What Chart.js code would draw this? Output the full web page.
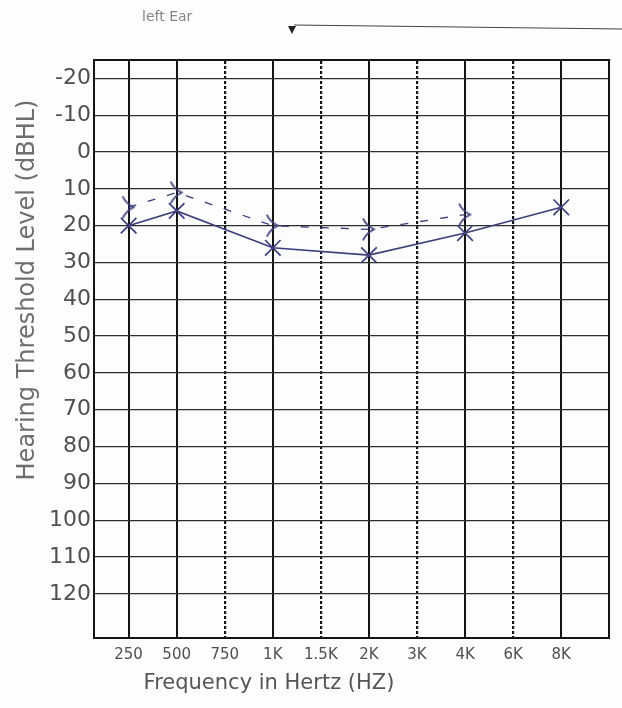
<!DOCTYPE html>
<html>
<head>
<meta charset="utf-8">
<title>Audiogram - left Ear</title>
<script src="https://cdn.jsdelivr.net/npm/chart.js@4"></script>
<style>
    html, body { margin: 0; padding: 0; background: #fdfdfd; }
    #wrap { width: 622px; height: 708px; position: relative; }
</style>
</head>
<body>
<div id="wrap"><canvas id="audiogram"></canvas></div>
<script>
// Frequencies along the bottom (index = position on the x scale)
const freqLabels = ['250', '500', '750', '1K', '1.5K', '2K', '3K', '4K', '6K', '8K'];
const octaveIdx = [0, 1, 3, 5, 7, 9];   // solid lines
const midIdx = [2, 4, 6, 8];            // dotted lines
const levelTicks = [-20, -10, 0, 10, 20, 30, 40, 50, 60, 70, 80, 90, 100, 110, 120];

// Left ear, air conduction (X)
const airIdx = [0, 1, 3, 5, 7, 9];
const airLevels = [20, 16, 26, 28, 22, 15];

// Left ear, bone conduction (>)
const boneIdx = [0, 1, 3, 5, 7];
const boneLevels = [15, 11, 20, 21, 17];

const penColor = '#3d3f7d';
const inkColor = '#151515';
const textColor = '#505050';

// hand drawn ">" marker
function boneMarker() {
    const c = document.createElement('canvas');
    c.width = 18; c.height = 26;
    const g = c.getContext('2d');
    g.strokeStyle = penColor;
    g.lineWidth = 1.8;
    g.beginPath();
    g.moveTo(3, 2);
    g.quadraticCurveTo(6, 9, 14, 13);
    g.quadraticCurveTo(6, 17, 3, 24);
    g.stroke();
    return c;
}

// header, arrow and the two axis titles (the printed form puts them off-centre)
const formText = {
    id: 'formText',
    afterDraw(chart) {
        const ctx = chart.ctx;
        ctx.save();
        ctx.fillStyle = '#858585';
        ctx.font = '14px "DejaVu Sans"';
        ctx.textBaseline = 'middle';
        ctx.fillText('left Ear', 142, 17);

        // arrow pointing down at the chart
        ctx.strokeStyle = '#444';
        ctx.lineWidth = 1.2;
        ctx.beginPath();
        ctx.moveTo(294, 25);
        ctx.lineTo(622, 29);
        ctx.stroke();
        ctx.fillStyle = '#222';
        ctx.beginPath();
        ctx.moveTo(288, 26);
        ctx.lineTo(296, 26);
        ctx.lineTo(292, 34);
        ctx.closePath();
        ctx.fill();

        // x title
        ctx.fillStyle = '#555';
        ctx.font = '21px "DejaVu Sans"';
        ctx.textAlign = 'center';
        ctx.fillText('Frequency in Hertz (HZ)', 269, 684);

        // y title
        ctx.translate(28, 290);
        ctx.rotate(-Math.PI / 2);
        ctx.fillStyle = '#6e6e6e';
        ctx.font = '24px "DejaVu Sans"';
        ctx.fillText('Hearing Threshold Level (dBHL)', 0, 0);
        ctx.restore();
    }
};

const ctx = document.getElementById('audiogram').getContext('2d');
new Chart(ctx, {
    type: 'line',
    data: {
        datasets: [{
            label: 'Air',
            data: airIdx.map((f, i) => ({ x: f, y: airLevels[i] })),
            borderColor: penColor,
            borderWidth: 1.6,
            pointStyle: 'crossRot',
            pointRadius: 11,
            pointBorderWidth: 1.7,
            pointBorderColor: penColor,
            fill: false,
            tension: 0
        }, {
            label: 'Bone',
            data: boneIdx.map((f, i) => ({ x: f, y: boneLevels[i] })),
            borderColor: penColor,
            borderWidth: 1.3,
            borderDash: [8, 12],
            pointStyle: boneMarker(),
            pointRadius: 10,
            fill: false,
            tension: 0
        }]
    },
    options: {
        responsive: true,
        maintainAspectRatio: false,
        animation: false,
        layout: {
            padding: { top: 60, left: 46, right: 5, bottom: 36 }
        },
        plugins: {
            legend: { display: false },
            tooltip: { enabled: false }
        },
        scales: {
            x: {
                type: 'linear',
                position: 'bottom',
                min: -0.72,
                max: 10,
                afterBuildTicks: scale => {
                    scale.ticks = freqLabels.map((_, i) => ({ value: i }));
                },
                ticks: {
                    callback: value => freqLabels[value],
                    color: textColor,
                    font: { family: 'DejaVu Sans', size: 15 },
                    padding: 8,
                    maxRotation: 0,
                    autoSkip: false
                },
                grid: {
                    color: c => midIdx.includes(c.tick.value) ? 'rgba(0,0,0,0)' : inkColor,
                    lineWidth: 2,
                    drawTicks: false
                },
                border: { color: inkColor, width: 2 }
            },
            x2: {
                type: 'linear',
                position: 'top',
                min: -0.72,
                max: 10,
                afterBuildTicks: scale => {
                    scale.ticks = midIdx.map(i => ({ value: i }));
                },
                ticks: { display: false },
                grid: { color: inkColor, lineWidth: 2.2, drawTicks: false },
                border: { color: inkColor, width: 2, dash: [3, 2] }
            },
            y: {
                type: 'linear',
                reverse: true,
                min: -25,
                max: 132,
                afterBuildTicks: scale => {
                    scale.ticks = levelTicks.map(v => ({ value: v }));
                },
                ticks: {
                    color: textColor,
                    font: { family: 'DejaVu Sans', size: 22 },
                    padding: 3
                },
                grid: { color: '#2e2e2e', lineWidth: 1.3, drawTicks: false },
                border: { color: inkColor, width: 2 }
            },
            y2: {
                type: 'linear',
                position: 'right',
                reverse: true,
                min: -25,
                max: 132,
                afterFit: scale => { scale.width = 0; },
                ticks: { display: false },
                grid: { display: false },
                border: { color: inkColor, width: 2 }
            }
        }
    },
    plugins: [formText]
});
</script>
</body>
</html>
